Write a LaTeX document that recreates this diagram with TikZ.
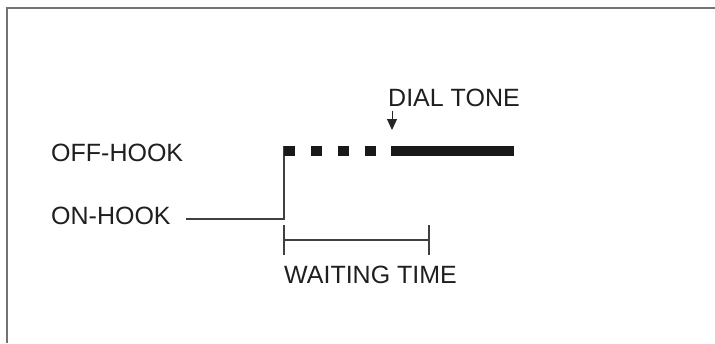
\documentclass[tikz,border=0pt]{standalone}
\usepackage{fontspec}
\setmainfont{Liberation Sans}
\usetikzlibrary{arrows.meta,positioning}

\begin{document}
\begin{tikzpicture}[
  x=1pt, y=-1pt,
  tag/.style={font=\fontsize{25}{30}\selectfont, text=black!88, inner sep=0pt, anchor=base west},
  thin line/.style={line width=1.2pt, draw=black!75},
  hook/.style={line width=10.5pt, draw=black!90, line cap=butt},
  flow/.style={-{Triangle[length=11pt, width=10pt]}, line width=1pt, draw=black!85}
]
\useasboundingbox (0,0) rectangle (715,343);
% frame
\draw[line width=1.6pt, draw=black!55] (7,343) |- (715,8);

% labels
\node[tag] (offhook) at (51,161) {OFF-HOOK};
\node[tag] (onhook) at (51,224) {ON-HOOK};
\node[tag] (dialtone) at (388,106) {DIAL TONE};
\node[tag] (waiting) at (284,283) {WAITING TIME};

% hook signal
\coordinate (onstart) at (186,219);
\coordinate (lift) at (284,219);
\coordinate (offstart) at (284,151);
\coordinate (dotend) at (377,151);
\coordinate (tonestart) at (391,151);
\coordinate (toneend) at (514,151);
\draw[thin line] (onstart) -- (lift) -- (284,146);
\draw[hook, dash pattern=on 10.5pt off 16.5pt] (offstart) -- (dotend);
\draw[hook] (tonestart) -- (toneend);

% dial tone marker
\coordinate (arrowtop) at (392,111);
\coordinate (arrowtip) at (392,130);
\draw[flow] (arrowtop) -- (arrowtip);

% waiting time bracket
\coordinate (waitleft) at (284,240);
\coordinate (waitright) at (429,240);
\draw[thin line] (waitleft) -- (waitright);
\draw[thin line] ([yshift=-15pt]waitleft) -- ([yshift=15pt]waitleft);
\draw[thin line] ([yshift=-15pt]waitright) -- ([yshift=15pt]waitright);
\end{tikzpicture}
\end{document}
